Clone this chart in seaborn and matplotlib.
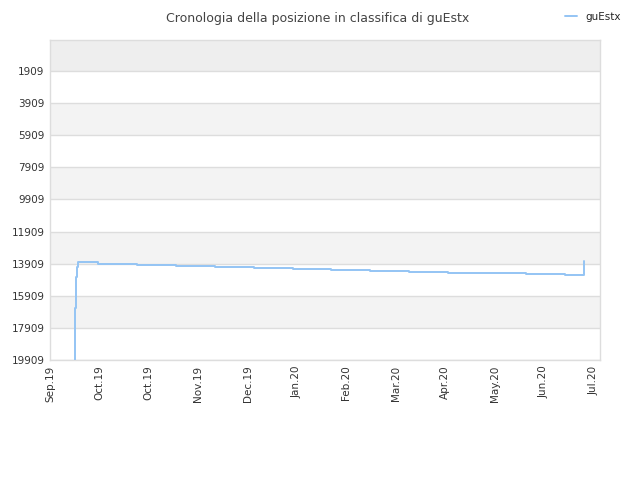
import matplotlib
matplotlib.use("Agg")
import matplotlib.pyplot as plt
import seaborn as sns
import pandas as pd

# ---- data ----
dates = [
    "2019-09-16 00:00", "2019-09-16 02:00", "2019-09-16 14:00", "2019-09-17 06:00",
    "2019-09-18 00:00", "2019-09-30 02:00", "2019-10-23 20:00", "2019-11-16 12:00",
    "2019-12-10 04:00", "2020-01-02 22:00", "2020-01-26 12:00", "2020-02-18 14:00",
    "2020-03-13 08:00", "2020-04-06 00:00", "2020-04-29 16:00", "2020-05-23 08:00",
    "2020-06-16 00:00", "2020-07-09 16:00", "2020-07-21 04:00",
]
ranks = [
    19909, 16640, 14765, 14140,
    13828, 13909, 13970, 14031,
    14092, 14153, 14214, 14275,
    14336, 14397, 14458, 14519,
    14580, 14641, 13721,
]
series_name = "guEstx"
title = "Cronologia della posizione in classifica di guEstx"
y_ticks = [1909, 3909, 5909, 7909, 9909, 11909, 13909, 15909, 17909, 19909]
x_tick_dates = pd.date_range("2019-09-01", periods=12, freq="30D")

df = pd.DataFrame({"date": pd.to_datetime(dates), "rank": ranks, "player": series_name})

sns.set_theme(style="white")
plt.rcParams['font.family'] = ['DejaVu Sans']

fig = plt.figure(figsize=(6.4, 4.8), dpi=100)
ax = fig.add_axes([50/640, 1-360/480, 550/640, 320/480])

y_top = -28
y_bot = 19909
# background bands
edges = [y_top] + y_ticks
for i in range(len(edges)-1):
    if i == 0:
        col = "#eeeeee"
    elif i % 2 == 0:
        col = "#f3f3f3"
    else:
        col = "#ffffff"
    ax.axhspan(edges[i], edges[i+1], color=col, zorder=0, lw=0)
for t in y_ticks:
    ax.axhline(t, color="#dddddd", lw=1, zorder=1)

sns.lineplot(data=df, x="date", y="rank", ax=ax, drawstyle="steps-post",
             color="#94c4f4", lw=1.4, label=series_name, legend=False, zorder=3)

ax.set_ylim(y_bot, y_top)
ax.set_xlim(pd.Timestamp("2019-09-01"), pd.Timestamp("2020-07-31"))
ax.set_yticks(y_ticks)
ax.set_yticklabels([str(t) for t in y_ticks])
ax.set_xticks(x_tick_dates)
ax.set_xticklabels([d.strftime("%b.%y") for d in x_tick_dates], rotation=90)
ax.tick_params(axis="both", labelsize=7.5, colors="#333333", length=0, pad=4)
ax.set_xlabel("")
ax.set_ylabel("")
for s in ax.spines.values():
    s.set_color("#dddddd")
    s.set_linewidth(1)
    s.set_visible(True)

fig.text(0.497, 0.974, title, ha="center", va="top", fontsize=9, color="#444444")
leg = fig.legend(handles=ax.get_lines()[-1:], labels=[series_name], loc="upper right",
                 bbox_to_anchor=(0.985, 0.995), frameon=False, fontsize=7.5,
                 handlelength=1.2, handletextpad=0.8)

fig.savefig("out.png", dpi=100)
